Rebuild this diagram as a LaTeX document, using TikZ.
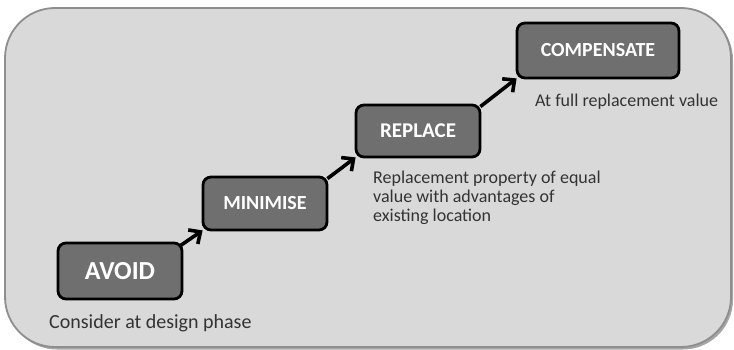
\documentclass[tikz,border=0pt]{standalone}
\usepackage{fontspec}
\setmainfont{Carlito}
\usetikzlibrary{arrows.meta}
\definecolor{panelfill}{HTML}{D9D9D9}
\definecolor{panelline}{HTML}{8E8E8E}
\definecolor{boxfill}{HTML}{6F6F6F}
\definecolor{labeltext}{HTML}{333333}
\tikzset{
  stagebox/.style={draw=black, line width=2.8pt, fill=boxfill, rounded corners=8pt,
    text=white, font=\bfseries\fontsize{20}{24}\selectfont, inner sep=0pt},
  stagearrow/.style={draw=black, line width=3.6pt, -{Straight Barb[length=9pt,width=17pt]}},
  note/.style={text=labeltext, inner sep=0pt, font=\fontsize{18}{19.5}\selectfont, align=left}
}
\begin{document}
\begin{tikzpicture}[x=1pt,y=-1pt]
\useasboundingbox (0,0) rectangle (734,350);
% panel shadow and panel
\fill[black!35, rounded corners=50pt] (7,10) rectangle (733,349.5);
\draw[panelline, fill=panelfill, line width=1.8pt, rounded corners=50pt] (5,8) rectangle (731,347);
% stage boxes
\node[stagebox, minimum width=124pt, minimum height=56pt, font=\bfseries\fontsize{26}{30}\selectfont] (avoid) at (120,271) {AVOID};
\node[stagebox, minimum width=124pt, minimum height=53pt] (minimise) at (265,203.5) {MINIMISE};
\node[stagebox, minimum width=124pt, minimum height=52pt, font=\bfseries\fontsize{21}{24}\selectfont] (replace) at (418,131) {REPLACE};
\node[stagebox, minimum width=162pt, minimum height=55pt] (compensate) at (598,50.5) {COMPENSATE};
% connectors
\draw[stagearrow] ([shift={(-3,4)}]avoid.north east) -- ([shift={(1,-1)}]minimise.south west);
\draw[stagearrow] ([shift={(-1,3)}]minimise.north east) -- ([shift={(1,-1)}]replace.south west);
\draw[stagearrow] ([shift={(-1,3)}]replace.north east) -- ([shift={(1,-1)}]compensate.south west);
% labels
\node[note, anchor=base west, font=\fontsize{20}{24}\selectfont] (avoidnote) at (49,328) {Consider at design phase};
\node[note, anchor=base west] (replacenote) at (373,222) {Replacement property of equal\\value with advantages of\\existing location};
\node[note, anchor=base west] (compnote) at (535,107) {At full replacement value};
\end{tikzpicture}
\end{document}
